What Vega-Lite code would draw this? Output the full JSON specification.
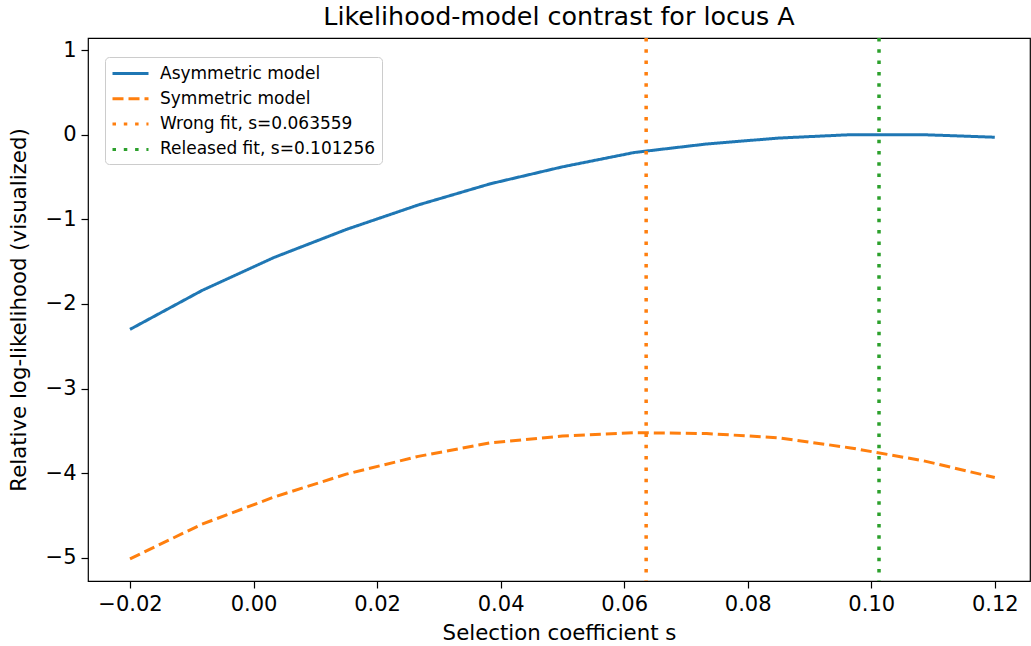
{
  "$schema": "https://vega.github.io/schema/vega-lite/v6.json",
  "autosize": {"type": "none"},
  "width": 942,
  "height": 543,
  "padding": {"left": 88, "top": 38, "right": 1, "bottom": 65},
  "background": "white",
  "title": {"text": "Likelihood-model contrast for locus A", "font": "DejaVu Sans", "fontSize": 25.4, "fontWeight": "normal", "color": "black", "offset": 6, "anchor": "middle"},
  "config": {
    "view": {"stroke": "black", "strokeWidth": 1.2},
    "axis": {"grid": false, "domain": false, "tickColor": "black", "tickSize": 7, "tickWidth": 1.2, "labelFont": "DejaVu Sans", "labelFontSize": 21, "labelColor": "black", "titleFont": "DejaVu Sans", "titleFontSize": 21.3, "titleFontWeight": "normal", "titleColor": "black"}
  },
  "datasets": {
    "curves": [
      {"series": "Asymmetric model", "s": -0.02, "ll": -2.30},
      {"series": "Asymmetric model", "s": -0.008333, "ll": -1.84},
      {"series": "Asymmetric model", "s": 0.003333, "ll": -1.45},
      {"series": "Asymmetric model", "s": 0.015, "ll": -1.12},
      {"series": "Asymmetric model", "s": 0.026667, "ll": -0.83},
      {"series": "Asymmetric model", "s": 0.038333, "ll": -0.58},
      {"series": "Asymmetric model", "s": 0.05, "ll": -0.38},
      {"series": "Asymmetric model", "s": 0.061667, "ll": -0.21},
      {"series": "Asymmetric model", "s": 0.073333, "ll": -0.11},
      {"series": "Asymmetric model", "s": 0.085, "ll": -0.04},
      {"series": "Asymmetric model", "s": 0.096667, "ll": 0.0},
      {"series": "Asymmetric model", "s": 0.108333, "ll": 0.0},
      {"series": "Asymmetric model", "s": 0.12, "ll": -0.03},
      {"series": "Symmetric model", "s": -0.02, "ll": -5.01},
      {"series": "Symmetric model", "s": -0.008333, "ll": -4.60},
      {"series": "Symmetric model", "s": 0.003333, "ll": -4.28},
      {"series": "Symmetric model", "s": 0.015, "ll": -4.01},
      {"series": "Symmetric model", "s": 0.026667, "ll": -3.80},
      {"series": "Symmetric model", "s": 0.038333, "ll": -3.64},
      {"series": "Symmetric model", "s": 0.05, "ll": -3.56},
      {"series": "Symmetric model", "s": 0.061667, "ll": -3.52},
      {"series": "Symmetric model", "s": 0.073333, "ll": -3.53},
      {"series": "Symmetric model", "s": 0.085, "ll": -3.58},
      {"series": "Symmetric model", "s": 0.096667, "ll": -3.70},
      {"series": "Symmetric model", "s": 0.108333, "ll": -3.85},
      {"series": "Symmetric model", "s": 0.12, "ll": -4.05}
    ],
    "fits": [
      {"series": "Wrong fit, s=0.063559", "s": 0.063559},
      {"series": "Released fit, s=0.101256", "s": 0.101256}
    ]
  },
  "layer": [
    {
      "data": {"name": "curves"},
      "mark": {"type": "line", "strokeWidth": 3, "clip": true},
      "encoding": {
        "x": {"field": "s", "type": "quantitative", "scale": {"domain": [-0.0268, 0.1257], "nice": false, "zero": false}, "axis": {"values": [-0.02, 0, 0.02, 0.04, 0.06, 0.08, 0.1, 0.12], "format": ".2f", "title": "Selection coefficient s", "labelPadding": 5, "titlePadding": 8}},
        "y": {"field": "ll", "type": "quantitative", "scale": {"domain": [-5.272, 1.142], "nice": false, "zero": false}, "axis": {"values": [-5, -4, -3, -2, -1, 0, 1], "title": "Relative log-likelihood (visualized)", "labelPadding": 5, "titlePadding": 16}},
        "color": {"field": "series", "type": "nominal", "scale": {"domain": ["Asymmetric model", "Symmetric model", "Wrong fit, s=0.063559", "Released fit, s=0.101256"], "range": ["#1f77b4", "#ff7f0e", "#ff7f0e", "#2ca02c"]}, "legend": {"title": null, "orient": "none", "legendX": 17, "legendY": 19, "symbolType": "M-1,0H3", "symbolSize": 324, "symbolStrokeWidth": 3, "labelFont": "DejaVu Sans", "labelFontSize": 17, "labelColor": "black", "labelLimit": 0, "labelOffset": 28, "rowPadding": 6.3, "padding": 6, "fillColor": "rgba(255,255,255,0.8)", "strokeColor": "#cccccc", "cornerRadius": 4}},
        "strokeDash": {"field": "series", "type": "nominal", "scale": {"domain": ["Asymmetric model", "Symmetric model", "Wrong fit, s=0.063559", "Released fit, s=0.101256"], "range": [[1, 0], [11, 5], [3.5, 7.8], [3.5, 7.8]]}, "legend": {"title": null, "orient": "none", "legendX": 17, "legendY": 19, "symbolType": "M-1,0H3", "symbolSize": 324, "symbolStrokeWidth": 3, "labelFont": "DejaVu Sans", "labelFontSize": 17, "labelColor": "black", "labelLimit": 0, "labelOffset": 28, "rowPadding": 6.3, "padding": 6, "fillColor": "rgba(255,255,255,0.8)", "strokeColor": "#cccccc", "cornerRadius": 4}}
      }
    },
    {
      "data": {"name": "fits"},
      "mark": {"type": "rule", "strokeWidth": 3.5},
      "encoding": {
        "x": {"field": "s", "type": "quantitative"},
        "color": {"field": "series", "type": "nominal"},
        "strokeDash": {"field": "series", "type": "nominal"}
      }
    }
  ]
}
